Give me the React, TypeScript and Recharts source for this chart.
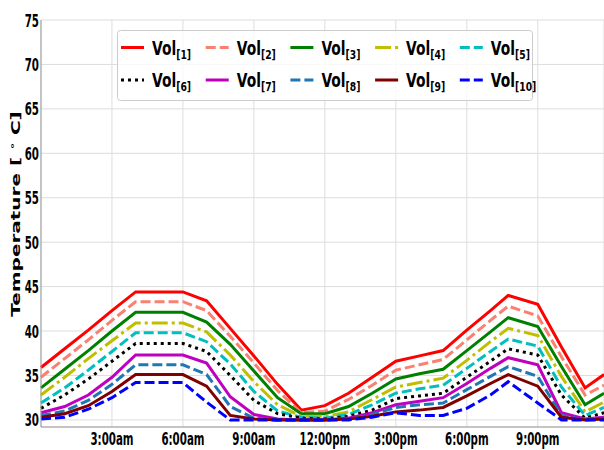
import React from "react";
import { CartesianGrid, Line, LineChart, XAxis, YAxis } from "recharts";

// hour of day for each sample
const HOURS = [0, 1, 2, 3, 4, 5, 6, 7, 8, 9, 10, 11, 12, 13, 14, 15, 16, 17, 18, 19, 19.75, 21, 22, 23, 23.8];

const VOL_1 = [35.9, 38.0, 40.1, 42.3, 44.4, 44.4, 44.4, 43.4, 40.3, 37.2, 34.0, 31.1, 31.6, 33.0, 34.8, 36.6, 37.2, 37.8, 40.1, 42.3, 44.0, 43.0, 38.2, 33.6, 35.1];
const VOL_2 = [34.8, 36.9, 39.0, 41.2, 43.3, 43.3, 43.3, 42.3, 39.4, 36.4, 33.3, 30.8, 31.0, 32.3, 33.9, 35.6, 36.2, 36.8, 39.0, 41.2, 42.8, 41.7, 37.1, 32.8, 33.9];
const VOL_3 = [33.6, 35.7, 37.8, 40.0, 42.1, 42.1, 42.1, 41.0, 38.5, 35.5, 32.5, 30.7, 30.7, 31.5, 33.0, 34.6, 35.2, 35.7, 37.8, 39.9, 41.5, 40.5, 36.0, 31.7, 33.0];
const VOL_4 = [32.8, 34.8, 36.9, 38.9, 40.9, 40.9, 40.9, 39.9, 37.3, 34.3, 31.7, 30.4, 30.4, 30.9, 32.3, 33.7, 34.2, 34.7, 36.7, 38.8, 40.3, 39.5, 34.9, 30.9, 32.0];
const VOL_5 = [31.9, 33.6, 35.6, 37.7, 39.8, 39.8, 39.8, 38.8, 36.3, 33.2, 31.0, 30.3, 30.2, 30.6, 31.7, 33.0, 33.5, 33.9, 35.8, 37.7, 39.1, 38.3, 33.7, 30.5, 31.4];
const VOL_6 = [31.3, 32.8, 34.6, 36.6, 38.6, 38.6, 38.6, 37.7, 35.0, 32.2, 30.7, 30.2, 30.1, 30.4, 31.1, 32.4, 32.7, 33.0, 34.8, 36.6, 38.0, 37.3, 32.8, 30.2, 30.8];
const VOL_7 = [30.8, 31.5, 32.8, 34.8, 37.3, 37.3, 37.3, 36.4, 32.6, 30.6, 30.1, 30.0, 30.0, 30.2, 30.8, 31.7, 32.1, 32.5, 34.1, 35.8, 37.0, 36.2, 30.8, 30.1, 30.3];
const VOL_8 = [30.5, 31.0, 32.2, 34.0, 36.2, 36.2, 36.2, 35.1, 31.5, 30.2, 30.0, 30.0, 30.0, 30.1, 30.6, 31.4, 31.7, 31.9, 33.4, 34.9, 36.0, 34.9, 30.5, 30.0, 30.2];
const VOL_9 = [30.3, 30.7, 31.6, 33.2, 35.1, 35.1, 35.1, 33.8, 30.5, 30.1, 30.0, 30.0, 30.0, 30.1, 30.4, 30.9, 31.1, 31.4, 32.7, 34.1, 35.1, 33.8, 30.3, 30.0, 30.1];
const VOL_10 = [30.1, 30.3, 31.2, 32.5, 34.2, 34.2, 34.2, 32.0, 30.0, 30.0, 30.0, 30.0, 30.0, 30.0, 30.3, 30.8, 30.5, 30.5, 31.3, 32.8, 34.3, 31.9, 30.0, 30.0, 30.0];

const X_TICKS = [3, 6, 9, 12, 15, 18, 21];
const X_TICK_LABELS = ["3:00am", "6:00am", "9:00am", "12:00pm", "3:00pm", "6:00pm", "9:00pm"];
const Y_TICKS = [30, 35, 40, 45, 50, 55, 60, 65, 70, 75];

const DASHED = "10 4";
const DASH_DOT = "16 4 3 4";
const DOTTED = "3 4";

const SERIES = [
  { key: "v1", sub: "[1]", values: VOL_1, color: "#ff0000", dash: undefined },
  { key: "v2", sub: "[2]", values: VOL_2, color: "#fa8072", dash: DASHED },
  { key: "v3", sub: "[3]", values: VOL_3, color: "#008000", dash: undefined },
  { key: "v4", sub: "[4]", values: VOL_4, color: "#bfbf00", dash: DASH_DOT },
  { key: "v5", sub: "[5]", values: VOL_5, color: "#00bfbf", dash: DASHED },
  { key: "v6", sub: "[6]", values: VOL_6, color: "#000000", dash: DOTTED },
  { key: "v7", sub: "[7]", values: VOL_7, color: "#bf00bf", dash: undefined },
  { key: "v8", sub: "[8]", values: VOL_8, color: "#1f77b4", dash: DASHED },
  { key: "v9", sub: "[9]", values: VOL_9, color: "#800000", dash: undefined },
  { key: "v10", sub: "[10]", values: VOL_10, color: "#0000ff", dash: DASHED },
];

const rows = HOURS.map((h, i) => {
  const row: Record<string, number> = { h };
  SERIES.forEach((s) => (row[s.key] = s.values[i]));
  return row;
});

const FONT = "DejaVu Sans, sans-serif";

function XTick({ x, y, payload }: any) {
  const label = X_TICK_LABELS[X_TICKS.indexOf(payload.value)];
  return (
    <text
      transform={`translate(${x},${y}) scale(0.57,1)`}
      textAnchor="middle"
      dy={18}
      fontSize={18}
      fontWeight="bold"
      fontFamily={FONT}
      fill="#000"
    >
      {label}
    </text>
  );
}

function YTick({ x, y, payload }: any) {
  return (
    <text
      transform={`translate(${x},${y}) scale(0.57,1)`}
      textAnchor="end"
      dy={6.5}
      fontSize={18}
      fontWeight="bold"
      fontFamily={FONT}
      fill="#000"
    >
      {payload.value}
    </text>
  );
}

function YLabel() {
  return (
    <text
      transform="translate(20,214) rotate(-90) scale(1.6,1)"
      textAnchor="middle"
      fontSize={12.5}
      fontWeight="bold"
      fontFamily={FONT}
      fill="#000"
    >
      Temperature [ <tspan fontSize={8} dy={-5}>∘</tspan>
      <tspan dy={5}> C]</tspan>
    </text>
  );
}

function VolLegend() {
  return (
    <svg
      width={604}
      height={450}
      style={{ position: "absolute", left: 0, top: 0, pointerEvents: "none" }}
    >
      <rect x={117.5} y={30.5} width={415} height={70} rx={3} fill="#fff" fillOpacity={0.8} stroke="#cccccc" />
      {SERIES.map((s, i) => {
        const col = i % 5;
        const row = Math.floor(i / 5);
        const x = 121 + col * 84.7;
        const y = 47.5 + row * 32.5;
        return (
          <g key={s.key}>
            <line x1={x} y1={y} x2={x + 23} y2={y} stroke={s.color} strokeWidth={3} strokeDasharray={s.dash} />
            <text
              transform={`translate(${x + 31},${y + 7}) scale(0.71,1)`}
              fontSize={19.5}
              fontWeight="bold"
              fontFamily={FONT}
              fill="#000"
            >
              Vol
              <tspan fontSize={13} dy={4}>
                {s.sub}
              </tspan>
            </text>
          </g>
        );
      })}
    </svg>
  );
}

export default function App() {
  return (
    <div style={{ position: "absolute", left: 0, top: 0, width: 604, height: 450, background: "#fff" }}>
      <LineChart width={604} height={450} data={rows} margin={{ top: 20, right: 0, bottom: 0, left: 0 }}>
        <CartesianGrid stroke="#dddddd" strokeWidth={1} />
        <XAxis
          dataKey="h"
          type="number"
          domain={[0, 23.8]}
          ticks={X_TICKS}
          tick={<XTick />}
          tickLine={false}
          tickSize={0}
          tickMargin={0}
          height={23}
          axisLine={{ stroke: "#999999" }}
        />
        <XAxis
          xAxisId="top"
          orientation="top"
          dataKey="h"
          type="number"
          domain={[0, 23.8]}
          tick={false}
          tickLine={false}
          height={0}
          axisLine={{ stroke: "#999999" }}
        />
        <YAxis
          type="number"
          domain={[29.2, 75]}
          ticks={Y_TICKS}
          tick={<YTick />}
          tickLine={false}
          tickSize={0}
          tickMargin={2}
          width={41}
          axisLine={{ stroke: "#999999" }}
          label={<YLabel />}
        />
        {SERIES.map((s) => (
          <Line
            key={s.key}
            dataKey={s.key}
            type="linear"
            stroke={s.color}
            strokeWidth={3}
            strokeDasharray={s.dash}
            dot={false}
            activeDot={false}
            isAnimationActive={false}
          />
        ))}
      </LineChart>
      <VolLegend />
    </div>
  );
}
